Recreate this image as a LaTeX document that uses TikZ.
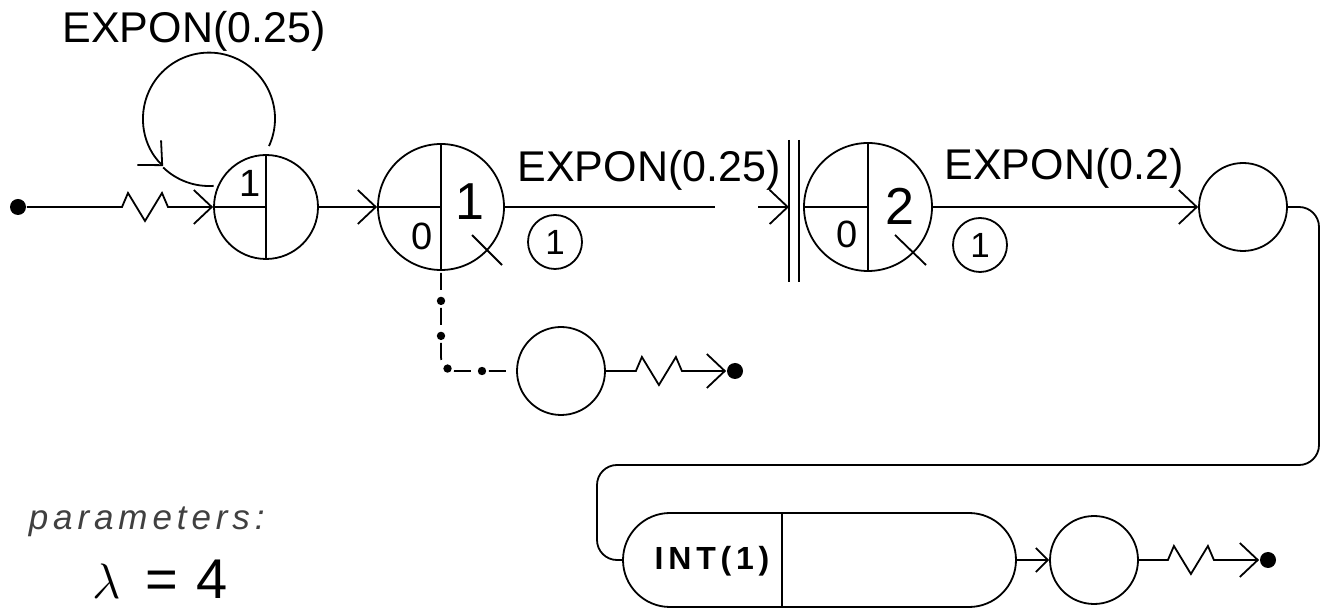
\documentclass[tikz,border=0pt]{standalone}
\usepackage{fontspec}
\setmainfont{Liberation Sans}
\newfontfamily\paramfont{Liberation Sans}[LetterSpace=14]
\newfontfamily\intfont{Liberation Sans}[LetterSpace=15]
\usetikzlibrary{arrows.meta,shapes.misc,calc}
\begin{document}
\begin{tikzpicture}[x=0.5pt,y=-0.5pt,line width=0.9pt,
  barb/.style={-{Straight Barb[length=9pt,width=17pt]}},
  sbarb/.style={-{Straight Barb[length=6pt,width=12pt]}},
  place/.style={circle,draw,inner sep=0pt},
  dotnode/.style={circle,fill=black,inner sep=0pt,minimum size=8pt},
  lbl/.style={font=\fontsize{21.5}{24}\selectfont,inner sep=0pt,anchor=base},
  dig/.style={font=\fontsize{19}{22}\selectfont,inner sep=0pt,anchor=base},
  bigdig/.style={font=\fontsize{26}{30}\selectfont,inner sep=0pt,anchor=base},
  tok/.style={place,minimum size=27pt,font=\fontsize{17.5}{20}\selectfont},
  zz/.style={insert path={-- ++(6,-14) -- ++(17,28) -- ++(17,-28) -- ++(6,14)}},
  dashdot/.style={rounded corners=7pt,dash pattern=on 8.5pt off 9pt,dash phase=16.5pt,
    preaction={draw,line width=4.2pt,line cap=round,dash pattern=on 0pt off 17.5pt,dash phase=2.5pt}}
]
\useasboundingbox (0,0) rectangle (1322,608);

% places
\node[place,minimum size=52pt] (c1) at (266,207) {};
\node[place,minimum size=63pt] (c2) at (441,207) {};
\node[place,minimum size=64pt] (c3) at (868,207) {};
\node[place,minimum size=44pt] (c4) at (1243,207) {};
\node[place,minimum size=44pt] (c6) at (561,371) {};
\node[place,minimum size=44pt] (c5) at (1094,560) {};
\node[rounded rectangle,draw,inner sep=0pt,minimum width=196.5pt,minimum height=47pt] (box) at (819.5,560) {};

% dividers inside places
\draw (c1.north) -- (c1.south);
\draw (c1.west) -- (c1.center);
\draw (c2.north) -- (c2.south);
\draw (c2.west) -- (c2.center);
\draw (c3.north) -- (c3.south);
\draw (c3.west) -- (c3.center);
\coordinate (dv) at (782,560);
\draw (dv |- box.north) -- (dv |- box.south);

% cross marks
\draw ($(c2.center)+(31,28)$) -- ++(30,30);
\draw ($(c3.center)+(27,28)$) -- ++(31,30);

% texts in places
\node[dig] (n1) at (250,197) {1};
\node[dig] (n2) at (422,250) {0};
\node[bigdig] (n3) at (470,220) {1};
\node[dig] (n4) at (847,248) {0};
\node[bigdig] (n5) at (900,225) {2};
\node[anchor=base,inner sep=0pt,font=\intfont\bfseries\fontsize{16}{18}\selectfont] (int) at (712,570) {INT(1)};

% end dots
\node[dotnode] (d0) at (18,207) {};
\node[dotnode] (d1) at (735,371) {};
\node[dotnode] (d2) at (1268,560) {};

% connectors
\draw[barb] (d0) -- ++(104,0) [zz] -- (c1.west);
\draw[barb] (c1.east) -- (c2.west);
\coordinate (g1) at (715,207);
\coordinate (g2) at (758,207);
\coordinate (bar) at (789,207);
\draw (c2.east) -- (g1);
\draw[barb] (g2) -- (bar);
\draw (789,140) -- (789,282);
\draw (799,140) -- (799,282);
\draw[barb] (c3.east) -- (c4.west);
\draw[dashdot] (c2.south) |- (c6.west);
\draw[barb] (c6.east) -- ++(30,0) [zz] -- (d1);
\coordinate (k1) at (1319,465);
\coordinate (k2) at (597,520);
\draw[rounded corners=10pt] (c4.east) -| (k1) -| (k2) |- (box.west);
\draw[sbarb] (box.east) -- (c5.west);
\draw[barb] (c5.east) -- ++(29,0) [zz] -- (d2);

% self loop
\coordinate (ls) at ($(c1.north)+(3,-8)$);
\coordinate (la) at (163.2,167.5);
\draw[barb] (ls) arc[start angle=24.6,end angle=-226,radius=66];
\draw (la) arc[start angle=134,end angle=86,radius=66];

% labels
\node[lbl] (t1) at (194,43) {EXPON(0.25)};
\node[lbl] (t2) at (649,182) {EXPON(0.25)};
\node[lbl] (t3) at (1064,180) {EXPON(0.2)};
\node[tok] (k1t) at (555,242) {1};
\node[tok] (k2t) at (980,245) {1};

% parameters
\node[anchor=base west,inner sep=0pt,text=black!75,font=\paramfont\itshape\fontsize{17.5}{20}\selectfont] (par) at (28,530) {parameters:};
\node[anchor=base west,inner sep=0pt,font=\fontsize{28}{32}\selectfont] (lam) at (92,598) {$\lambda$\hspace{12pt}=\hspace{9pt}4};
\end{tikzpicture}
\end{document}
